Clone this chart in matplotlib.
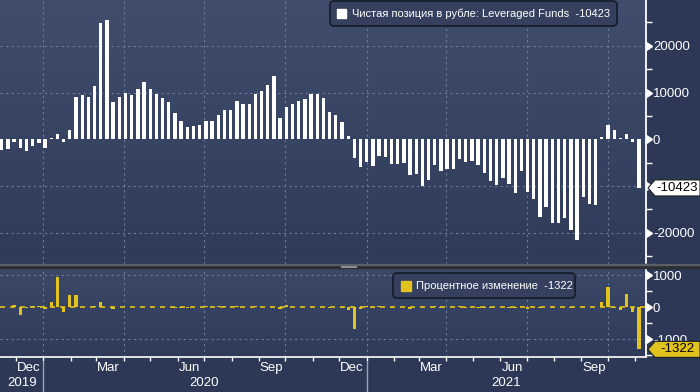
import numpy as np
import pandas as pd
import matplotlib.pyplot as plt
import matplotlib.colors as mcolors
import matplotlib.dates as mdates
from matplotlib.patches import Polygon, FancyBboxPatch, Rectangle
from matplotlib.transforms import IdentityTransform

plt.rcParams['font.family'] = ['Liberation Sans', 'DejaVu Sans']

# weekly data (Fridays)
dates = pd.date_range('2019-11-15', periods=104, freq='7D')
net_position = [
    -2300, -2100, -600, -1800, -2500, -1400, -900, -1900, 300, 1200,
    -500, 1900, 9000, 9400, 9000, 11400, 24900, 25500, 7900, 9100,
    9800, 9400, 10700, 12200, 10700, 9700, 8800, 7900, 5600, 3900,
    2700, 2900, 3100, 3900, 3900, 5100, 6200, 6200, 8100, 7500,
    7500, 9600, 10300, 11600, 13500, 4500, 6800, 7500, 8100, 8600,
    9600, 9600, 8800, 5800, 5100, 3600, 600, -4000, -5900, -4800,
    -5700, -3500, -3800, -5400, -5300, -5000, -7600, -7400, -10000, -8700,
    -5600, -6800, -6300, -6300, -4200, -4900, -4700, -5500, -7200, -9000,
    -9700, -8200, -9500, -11600, -6700, -11200, -12700, -16700, -14600, -18000,
    -18000, -16900, -19400, -21600, -12400, -13900, -14100, 500, 3000, 1900,
    300, 1200, -600, -10423,
]
pct_change = [
    10, 4, 75, -260, -29, 48, 36, -60, 150, 950,
    -150, 390, 390, 4, -4, 27, 150, 2, -69, 15,
    8, -4, 14, 14, -12, -9, -9, -10, -29, -30,
    -31, 7, 7, 26, 0, 31, 22, 0, 31, -7,
    0, 28, 7, 13, 16, -67, 51, 10, 8, 6,
    12, 0, -8, -34, -12, -29, -83, -700, -48, 19,
    -19, 39, -9, -42, 2, 6, -52, 3, -35, 13,
    36, -21, 7, 0, 33, -17, 4, -17, -31, -25,
    -8, 15, -16, -22, 42, -67, -13, -31, 13, -23,
    0, 6, -15, -11, 43, -12, -1, 150, 630, -37,
    -84, 410, -140, -1322,
]
top_label = 'Чистая позиция в рубле: Leveraged Funds  -10423'
bottom_label = 'Процентное изменение  -1322'
top_ticks = [-20000, -10000, 0, 10000, 20000]
top_ticklabels = ['-20000', '', '0', '10000', '20000']
bottom_ticks = [-1000, 0, 1000]
bottom_ticklabels = ['-1000', '0', '1000']
month_labels = ['Dec', 'Mar', 'Jun', 'Sep', 'Dec', 'Mar', 'Jun', 'Sep']
month_label_dates = ['2019-12-15', '2020-03-15', '2020-06-15', '2020-09-15',
                     '2020-12-15', '2021-03-15', '2021-06-15', '2021-09-15']
years = ['2019', '2020', '2021']

W, H = 700, 392
BG = '#2c3856'
GRID = '#6c7c9e'
YELLOW = '#e2c21c'

fig = plt.figure(figsize=(W / 100, H / 100), dpi=100, facecolor=BG)


def fpos(x0, y0, x1, y1):
    # image pixel box -> figure fraction [left, bottom, w, h]
    return [x0 / W, 1 - y1 / H, (x1 - x0) / W, (y1 - y0) / H]


def px(x, y):
    return (x, H - y)


ax1 = fig.add_axes(fpos(0, 0, 646, 264))
ax2 = fig.add_axes(fpos(0, 268, 646, 357))

xmin = mdates.date2num(pd.Timestamp('2019-11-13'))
xmax = mdates.date2num(pd.Timestamp('2021-11-13'))

for ax, c0, c1 in [(ax1, '#404d6c', '#2f3b59'), (ax2, '#3b4867', '#2f3b59')]:
    grad = np.linspace(0, 1, 256)[:, None, None]
    a = np.array(mcolors.to_rgb(c0))
    b = np.array(mcolors.to_rgb(c1))
    img = a * (1 - grad) + b * grad
    ax.imshow(img, extent=[0, 1, 0, 1], transform=ax.transAxes, aspect='auto', zorder=0)
    ax.set_facecolor(c1)
    for s in ['top', 'left', 'bottom']:
        ax.spines[s].set_visible(False)
    ax.spines['right'].set_color('white')
    ax.spines['right'].set_linewidth(1.3)
    ax.spines['right'].set_zorder(6)

# top panel
ax1.bar(dates, net_position, width=3.8, color='white', zorder=3)
ax1.set_xlim(xmin, xmax)
ax1.set_ylim(-26700, 29800)

# bottom panel
ax2.bar(dates, pct_change, width=3.8, color=YELLOW, zorder=3)
ax2.axhline(0, color=YELLOW, lw=1.2, ls=(0, (3, 3)), zorder=2)
ax2.set_xlim(xmin, xmax)
ax2.set_ylim(-1560, 1220)
ax2.spines['bottom'].set_visible(True)
ax2.spines['bottom'].set_color('white')
ax2.spines['bottom'].set_linewidth(1.2)

quarters = pd.date_range('2020-01-01', '2021-10-01', freq='QS')
months = pd.date_range('2019-12-01', '2021-11-01', freq='MS')

for ax, ticks, labels, minor in [(ax1, top_ticks, top_ticklabels, 5000),
                                 (ax2, bottom_ticks, bottom_ticklabels, 500)]:
    for q in quarters:
        ax.axvline(q, color=GRID, lw=0.8, ls=(0, (2, 3)), zorder=1)
    for t in ticks:
        if t != 0:
            ax.axhline(t, color=GRID, lw=0.8, ls=(0, (2, 3)), zorder=1)
    ax.yaxis.tick_right()
    ax.set_yticks(ticks)
    ax.set_yticklabels(labels)
    lo, hi = ax.get_ylim()
    ax.set_yticks([v for v in np.arange(-30000, 30001, minor) if lo < v < hi and v not in ticks],
                  minor=True)
    ax.tick_params(axis='y', which='major', length=0, pad=5, labelcolor='white', labelsize=9.5)
    ax.tick_params(axis='y', which='minor', length=4, width=1, color='white', direction='out')
    ax.plot(np.ones(len(ticks)), ticks, ls='', marker=9, ms=6, color='white',
            transform=ax.get_yaxis_transform(), clip_on=False, zorder=5)

ax1.set_xticks([])
ax2.set_xticks(months)
ax2.set_xticklabels([])
ax2.tick_params(axis='x', length=3, width=1, color='white', direction='out')

for lab, d in zip(month_labels, month_label_dates):
    ax2.text(pd.Timestamp(d), -0.125, lab, transform=ax2.get_xaxis_transform(),
             ha='center', va='center', color='white', fontsize=9.5)

y2019 = (xmin + mdates.date2num(pd.Timestamp('2020-01-01'))) / 2
y2020 = mdates.date2num(pd.Timestamp('2020-07-01'))
y2021 = (mdates.date2num(pd.Timestamp('2021-01-01')) + xmax) / 2
for lab, x in zip(years, [y2019, y2020, y2021]):
    ax2.text(x, -0.29, lab, transform=ax2.get_xaxis_transform(),
             ha='center', va='center', color='white', fontsize=9.5)
for d in ['2020-01-01', '2021-01-01']:
    ax2.plot([pd.Timestamp(d)] * 2, [-0.06, -0.42], color='#9aa3b5', lw=1,
             transform=ax2.get_xaxis_transform(), clip_on=False)

ident = IdentityTransform()

# divider between panels
fig.patches.append(Rectangle(px(0, 268), W, 4, transform=ident, color='#2b2d33', zorder=4))
fig.patches.append(Rectangle(px(0, 265), W, 1, transform=ident, color='#5a5e66', zorder=4))
for yy in [265.5, 267]:
    fig.lines.append(plt.Line2D([341, 356], [H - yy, H - yy], transform=ident,
                                color='#8a8e96', lw=0.8, zorder=5))

# legends
fig.patches.append(FancyBboxPatch(px(330, 26), 287, 25, boxstyle='round,pad=0,rounding_size=4',
                                  transform=ident, fc='#34405e', ec='#151b28', lw=1.2, zorder=4))
fig.patches.append(Rectangle(px(337, 18), 9, 9, transform=ident, color='white', zorder=5))
fig.text(*px(352, 14), top_label, transform=ident, color='white', fontsize=8,
         va='center', ha='left', zorder=5)

fig.patches.append(FancyBboxPatch(px(393, 298), 182, 25, boxstyle='round,pad=0,rounding_size=4',
                                  transform=ident, fc='#34405e', ec='#151b28', lw=1.2, zorder=4))
fig.patches.append(Rectangle(px(401, 291), 10, 10, transform=ident, color=YELLOW, zorder=5))
fig.text(*px(416, 286), bottom_label, transform=ident, color='white', fontsize=8,
         va='center', ha='left', zorder=5)

# last value tags
fig.canvas.draw()
for ax, val, fc, txt in [(ax1, net_position[-1], 'white', '-10423'),
                         (ax2, pct_change[-1], YELLOW, '-1322')]:
    yd = ax.get_yaxis_transform().transform((1, val))[1]
    pts = [(648, yd), (655, yd + 8), (700, yd + 8), (700, yd - 8), (655, yd - 8)]
    fig.patches.append(Polygon(pts, closed=True, transform=ident, fc=fc, ec='#222222',
                               lw=0.8, zorder=6))
    fig.text(677, yd, txt, transform=ident, color='black', fontsize=9.5,
             ha='center', va='center', zorder=7)

fig.savefig('out.png', dpi=100, facecolor=BG)
